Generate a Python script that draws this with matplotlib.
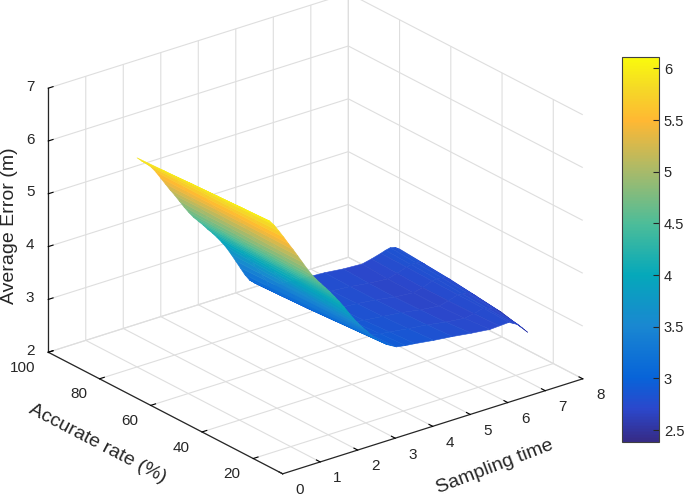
import numpy as np
import matplotlib
matplotlib.use('Agg')
import matplotlib.pyplot as plt
from matplotlib.colors import LinearSegmentedColormap, Normalize
from matplotlib.cm import ScalarMappable
from mpl_toolkits.mplot3d import Axes3D, proj3d

plt.rcParams['font.family'] = ['Liberation Sans', 'DejaVu Sans']

# values
sampling = [1, 1.125, 1.25, 1.375, 1.5, 1.625, 1.75, 1.875, 2,
            2.125, 2.25, 2.375, 2.5, 2.625, 2.75, 2.875, 3,
            3.125, 3.25, 3.375, 3.5, 3.625, 3.75, 3.875, 4,
            4.125, 4.25, 4.375, 4.5,
            4.75, 5, 5.5, 6, 6.5, 7, 7.25, 7.5, 7.625, 7.75, 7.875, 8]
accurate = [30, 40, 50, 60, 70, 80]
err_30 = [6.05, 5.99, 5.88, 5.74, 5.60, 5.45, 5.31, 5.16, 5.01,
          4.86, 4.72, 4.60, 4.49, 4.38, 4.27, 4.15, 4.03,
          3.90, 3.76, 3.63, 3.51, 3.40, 3.30, 3.19, 3.10,
          3.02, 2.95, 2.90, 2.85,
          2.82, 2.80, 2.75, 2.71, 2.66, 2.62, 2.63, 2.64, 2.59, 2.54, 2.44, 2.34]
err_40 = [6.04, 5.97, 5.87, 5.73, 5.59, 5.45, 5.31, 5.16, 5.01,
          4.87, 4.73, 4.60, 4.49, 4.38, 4.27, 4.16, 4.04,
          3.92, 3.79, 3.65, 3.53, 3.41, 3.29, 3.17, 3.07,
          2.99, 2.92, 2.87, 2.83,
          2.79, 2.77, 2.72, 2.68, 2.62, 2.58, 2.61, 2.66, 2.62, 2.60, 2.54, 2.46]
err_50 = [6.02, 5.95, 5.85, 5.72, 5.59, 5.45, 5.31, 5.17, 5.02,
          4.87, 4.73, 4.61, 4.49, 4.38, 4.27, 4.17, 4.05,
          3.93, 3.80, 3.67, 3.55, 3.42, 3.29, 3.15, 3.05,
          2.96, 2.89, 2.84, 2.80,
          2.76, 2.74, 2.70, 2.66, 2.60, 2.56, 2.60, 2.66, 2.65, 2.64, 2.60, 2.52]
err_60 = [6.00, 5.93, 5.84, 5.72, 5.58, 5.44, 5.31, 5.17, 5.02,
          4.88, 4.74, 4.61, 4.49, 4.38, 4.28, 4.17, 4.06,
          3.94, 3.82, 3.69, 3.56, 3.42, 3.28, 3.13, 3.02,
          2.93, 2.86, 2.81, 2.78,
          2.74, 2.72, 2.69, 2.65, 2.59, 2.56, 2.60, 2.67, 2.68, 2.68, 2.65, 2.58]
err_70 = [5.98, 5.90, 5.82, 5.71, 5.58, 5.44, 5.30, 5.16, 5.03,
          4.88, 4.74, 4.61, 4.50, 4.39, 4.29, 4.18, 4.07,
          3.96, 3.84, 3.71, 3.57, 3.42, 3.27, 3.11, 2.99,
          2.91, 2.84, 2.79, 2.76,
          2.73, 2.71, 2.68, 2.65, 2.60, 2.57, 2.62, 2.68, 2.70, 2.71, 2.69, 2.62]
err_80 = [5.96, 5.87, 5.79, 5.70, 5.58, 5.44, 5.30, 5.16, 5.03,
          4.89, 4.75, 4.62, 4.50, 4.40, 4.30, 4.19, 4.09,
          3.98, 3.86, 3.73, 3.58, 3.42, 3.26, 3.10, 2.97,
          2.89, 2.82, 2.78, 2.75,
          2.72, 2.70, 2.68, 2.66, 2.62, 2.60, 2.64, 2.69, 2.72, 2.74, 2.72, 2.66]

x_ticks = [0, 1, 2, 3, 4, 5, 6, 7, 8]
y_ticks = [20, 40, 60, 80, 100]
z_ticks = [2, 3, 4, 5, 6, 7]
cbar_ticks = [2.5, 3, 3.5, 4, 4.5, 5, 5.5, 6]
cbar_labels = ['2.5', '3', '3.5', '4', '4.5', '5', '5.5', '6']

parula_pos = [0, 0.083, 0.164, 0.30, 0.433, 0.567, 0.70, 0.836, 0.92, 1]
parula_col = [(0.21, 0.17, 0.53), (0.17, 0.28, 0.80), (0.03, 0.39, 0.85), (0.10, 0.53, 0.82),
              (0.02, 0.66, 0.73), (0.30, 0.74, 0.60), (0.65, 0.73, 0.42), (1.0, 0.72, 0.20),
              (0.96, 0.85, 0.15), (0.98, 0.98, 0.05)]
parula = LinearSegmentedColormap.from_list('parula', list(zip(parula_pos, parula_col)), N=256)
norm = Normalize(2.39, 6.11)
# the surface in the picture reads a bit brighter than the bar at the low end
surf_norm = Normalize(2.27, 6.11)

W, H = 685, 496
TEXT = '#262626'
fig = plt.figure(figsize=(W / 100, H / 100), dpi=100)
ax = fig.add_axes([60.8 / W, 7.8 / H, 496 / W, 496 / H], projection='3d')
ax.set_proj_type('ortho')
ax.view_init(elev=23.9, azim=-128)
ax.set_box_aspect((381, 381, 289), zoom=1.196)
ax.patch.set_alpha(0)

X, Y = np.meshgrid(sampling, accurate)
Z = np.array([err_30, err_40, err_50, err_60, err_70, err_80])
surf = ax.plot_surface(X, Y, Z, cmap=parula, norm=surf_norm, rstride=1, cstride=1,
                       linewidth=0.4, antialiased=True, shade=False)
surf.set_edgecolor('face')

ylow = 8.5
ax.set_xlim(0, 8, view_margin=0)
ax.set_ylim(ylow, 100, view_margin=0)
ax.set_zlim(2, 7, view_margin=0)
ax.set_xticks(x_ticks)
ax.set_yticks(y_ticks)
ax.set_zticks(z_ticks)

for axis in (ax.xaxis, ax.yaxis, ax.zaxis):
    axis.pane.set_facecolor('white')
    axis.pane.set_edgecolor('none')
    axis.line.set_color(TEXT)
    axis.line.set_linewidth(0.9)
    axis._axinfo['grid'].update(color='#dedede', linewidth=0.8)
    axis._axinfo['tick'].update(inward_factor=0, outward_factor=0.2, linewidth={True: 0.8, False: 0.8})
    axis.set_ticklabels([])


def tick_text(x, y, z, label, ha):
    # tick labels sit just off the axes, projected to the 2d data coords
    px, py, _ = proj3d.proj_transform(x, y, z, ax.get_proj())
    ax.text2D(px, py, label, transform=ax.transData, fontsize=11, color=TEXT, ha=ha, va='center')


for v in x_ticks:
    tick_text(v, ylow - 6.8, 1.86, str(v), 'center')
for v in y_ticks:
    tick_text(-0.333, v, 1.78, str(v), 'right')
for v in z_ticks:
    tick_text(0, 105.4, v - 0.11, str(v), 'right')

fig.text(495 / W, 1 - 467 / H, 'Sampling time', fontsize=14, rotation=21, color=TEXT,
         ha='center', va='center', rotation_mode='anchor')
fig.text(98 / W, 1 - 444 / H, 'Accurate rate (%)', fontsize=14, rotation=-27.5, color=TEXT,
         ha='center', va='center', rotation_mode='anchor')
fig.text(10 / W, 1 - 226 / H, 'Average Error (m)', fontsize=14, rotation=90, color=TEXT,
         ha='center', va='center', rotation_mode='anchor')

cax = fig.add_axes([621.5 / W, 1 - 441.5 / H, 37.5 / W, 384.5 / H])
cb = fig.colorbar(ScalarMappable(norm=norm, cmap=parula), cax=cax, ticks=cbar_ticks)
cb.ax.set_yticklabels(cbar_labels)
cb.ax.tick_params(direction='in', length=4, width=0.8, labelsize=10.6, colors=TEXT, pad=3.5)
cb.outline.set_edgecolor('#404040')
cb.outline.set_linewidth(0.8)

fig.savefig('out.png', dpi=100)
